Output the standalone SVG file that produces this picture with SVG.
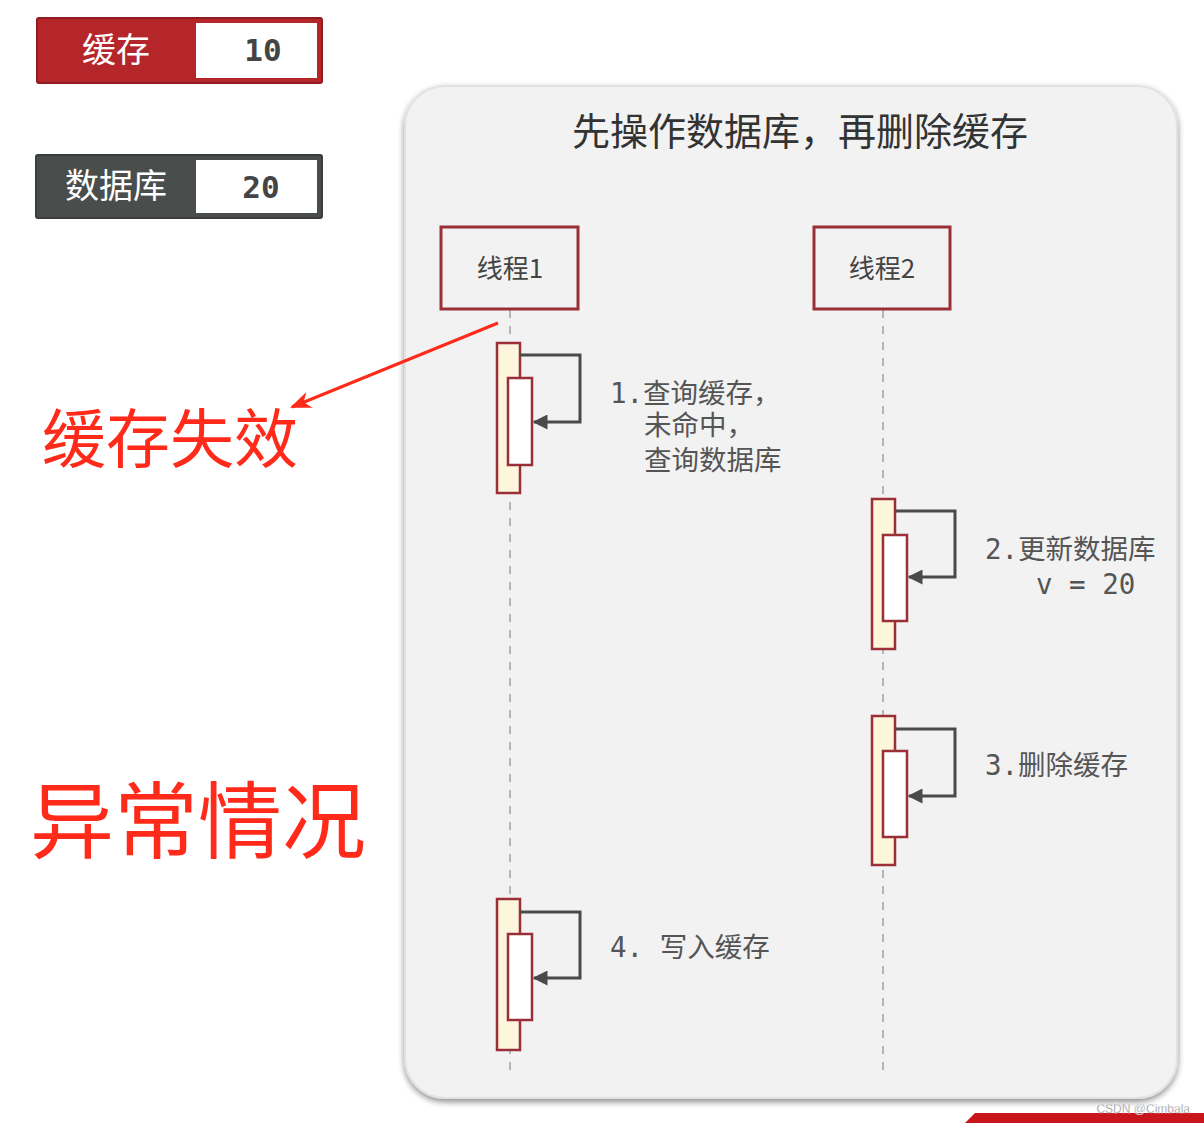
<svg xmlns="http://www.w3.org/2000/svg" width="1204" height="1123" viewBox="0 0 1204 1123">
<defs>
<style>
.cn{font-family:"Noto Sans CJK SC","Noto Sans",sans-serif;}
.mono{font-family:"DejaVu Sans Mono","Noto Sans CJK SC",monospace;}
.thread{fill:#f2f2f2;stroke:#9a2f38;stroke-width:3;}
.act-o{fill:#fdf5dc;stroke:#9a2f38;stroke-width:2.5;}
.act-i{fill:#ffffff;stroke:#9a2f38;stroke-width:2.5;}
.life{stroke:#b5b5b5;stroke-width:2;stroke-dasharray:8 8;fill:none;}
.loop{fill:none;stroke:#4a4a4a;stroke-width:3;}
.lbl{font-size:27.5px;fill:#555;}
</style>
<marker id="ah" viewBox="0 0 10 10" refX="9" refY="5" markerWidth="5" markerHeight="5" orient="auto" markerUnits="strokeWidth">
<path d="M0,0 L10,5 L0,10 z" fill="#4a4a4a"/>
</marker>
<marker id="rah" viewBox="0 0 10 10" refX="9" refY="5" markerWidth="7" markerHeight="7" orient="auto" markerUnits="strokeWidth">
<path d="M0,1 L10,5 L0,9 L3,5 z" fill="#ff2a1a"/>
</marker>
<filter id="sh" x="-5%" y="-5%" width="110%" height="110%">
<feGaussianBlur in="SourceAlpha" stdDeviation="3"/>
<feOffset dx="0" dy="3"/>
<feComponentTransfer><feFuncA type="linear" slope="0.45"/></feComponentTransfer>
<feMerge><feMergeNode/><feMergeNode in="SourceGraphic"/></feMerge>
</filter>
</defs>
<rect width="1204" height="1123" fill="#ffffff"/>

<g id="cache-box">
<rect x="37" y="18" width="285" height="65" rx="2" fill="#b5262a" stroke="#8e1c20" stroke-width="2"/>
<rect x="196" y="23" width="121" height="55" fill="#ffffff"/>
<text x="116" y="62" class="cn" font-size="34" fill="#ffffff" text-anchor="middle">缓存</text>
<text x="263" y="61" class="mono" font-size="31" font-weight="bold" fill="#444" text-anchor="middle">10</text>
</g>
<g id="db-box">
<rect x="36" y="155" width="286" height="63" rx="2" fill="#494d4c" stroke="#3a3d3c" stroke-width="2"/>
<rect x="196" y="160" width="121" height="53" fill="#ffffff"/>
<text x="116" y="198" class="cn" font-size="34" fill="#ffffff" text-anchor="middle">数据库</text>
<text x="261" y="198" class="mono" font-size="31" font-weight="bold" fill="#444" text-anchor="middle">20</text>
</g>

<g id="panel">
<rect x="405" y="86" width="772" height="1012" rx="40" fill="#f2f2f2" stroke="#e2e2e2" stroke-width="2" filter="url(#sh)"/>
<text x="800" y="145" class="cn" font-size="38" fill="#333" text-anchor="middle">先操作数据库，再删除缓存</text>
</g>

<g id="connectors">
<line class="life" x1="510" y1="310" x2="510" y2="1078"/>
<line class="life" x1="883" y1="310" x2="883" y2="1078"/>
</g>

<g id="thread1">
<rect class="thread" x="441" y="227" width="137" height="82"/>
<text x="510" y="278" class="cn" font-size="26" fill="#444" text-anchor="middle">线程1</text>
</g>
<g id="thread2">
<rect class="thread" x="814" y="227" width="136" height="82"/>
<text x="882" y="278" class="cn" font-size="26" fill="#444" text-anchor="middle">线程2</text>
</g>

<g id="step1">
<rect class="act-o" x="497" y="343" width="23" height="150"/>
<rect class="act-i" x="508" y="378" width="24" height="87"/>
<path class="loop" d="M520,355 H580 V422 H534" marker-end="url(#ah)"/>
<text class="mono lbl" x="610" y="403">1.查询缓存，</text>
<text class="mono lbl" x="644" y="435">未命中，</text>
<text class="mono lbl" x="644" y="470">查询数据库</text>
</g>

<g id="step2">
<rect class="act-o" x="872" y="499" width="23" height="150"/>
<rect class="act-i" x="883" y="535" width="24" height="86"/>
<path class="loop" d="M895,511 H955 V577 H909" marker-end="url(#ah)"/>
<text class="mono lbl" x="985" y="559">2.更新数据库</text>
<text class="mono lbl" x="1036" y="594">v = 20</text>
</g>

<g id="step3">
<rect class="act-o" x="872" y="716" width="23" height="149"/>
<rect class="act-i" x="883" y="751" width="24" height="86"/>
<path class="loop" d="M895,729 H955 V796 H909" marker-end="url(#ah)"/>
<text class="mono lbl" x="985" y="775">3.删除缓存</text>
</g>

<g id="step4">
<rect class="act-o" x="497" y="899" width="23" height="151"/>
<rect class="act-i" x="508" y="934" width="24" height="86"/>
<path class="loop" d="M520,912 H580 V978 H534" marker-end="url(#ah)"/>
<text class="mono lbl" x="610" y="957">4. 写入缓存</text>
</g>

<g id="annotation">
<line x1="498" y1="323" x2="292" y2="407" stroke="#ff2a1a" stroke-width="3" marker-end="url(#rah)"/>
<text x="42" y="462" class="cn" font-size="64" fill="#ff2a1a">缓存失效</text>
<text x="30" y="852" class="cn" font-size="84" fill="#ff2a1a">异常情况</text>
</g>

<g id="footer">
<path d="M975,1113 L1204,1113 L1204,1123 L965,1123 Z" fill="#c8161c"/>
<text x="1190" y="1113" font-family="Liberation Sans, sans-serif" font-size="12" fill="#888" stroke="#fff" stroke-width="0.3" text-anchor="end">CSDN @Cimbala</text>
</g>
</svg>
